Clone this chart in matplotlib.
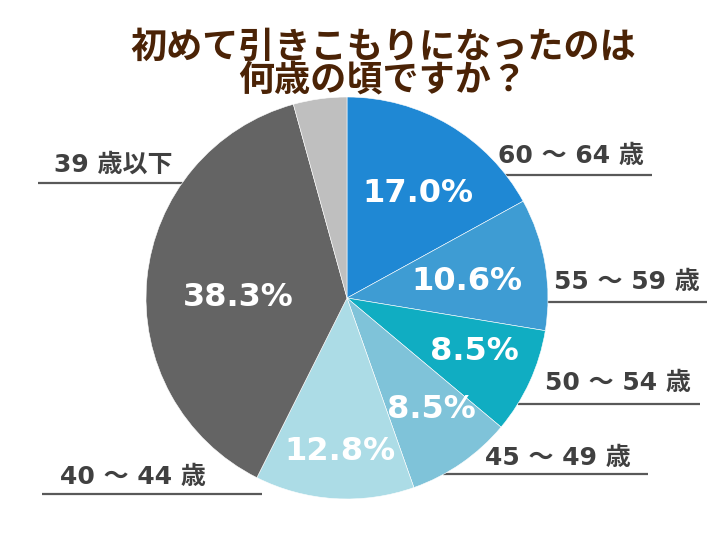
import matplotlib.pyplot as plt

plt.rcParams['font.family'] = ['DejaVu Sans', 'Noto Sans CJK JP']

# Data (clockwise from 12 o'clock)
categories = ['60 ～ 64 歳', '55 ～ 59 歳', '50 ～ 54 歳', '45 ～ 49 歳', '40 ～ 44 歳', '39 歳以下', '']
shares = [17.0, 10.6, 8.5, 8.5, 12.8, 38.3, 4.3]
pct_labels = ['17.0%', '10.6%', '8.5%', '8.5%', '12.8%', '38.3%', '']
colors = ['#1f88d4', '#3e9cd3', '#10adc2', '#7fc3d9', '#acdce6', '#646464', '#bfbfbf']

W, H = 726, 545
fig = plt.figure(figsize=(W / 100, H / 100), dpi=100)
ax = fig.add_axes([0, 0, 1, 1])

cx, cy, r = 347, H - 298, 201
ax.pie(shares, colors=colors, startangle=90, counterclock=False,
       center=(cx, cy), radius=r, frame=True,
       wedgeprops=dict(linewidth=0.4, edgecolor='white'))
ax.set_xlim(0, W)
ax.set_ylim(0, H)
ax.set_aspect('equal')
ax.axis('off')

# percentage labels inside slices (pixel positions from top-left)
pct_pos = [(418, 193), (467, 282), (474, 352), (431, 410), (340, 452), (238, 298)]
for (x, y), t in zip(pct_pos, pct_labels):
    ax.text(x, H - y, t, color='white', fontsize=23, fontweight='bold',
            ha='center', va='center')

# category labels with underline leaders: text centre, line (x0, x1, y)
label_text_pos = [(571, 156), (627, 282), (618, 383), (558, 458), (133, 477), (113, 165)]
leader_lines = [(500, 652, 175), (547, 707, 302), (518, 700, 404),
                (443, 648, 474), (42, 262, 494), (38, 185, 183)]
for (x, y), (x0, x1, ly), t in zip(label_text_pos, leader_lines, categories):
    ax.text(x, H - y, t, color='#404040', fontsize=18, fontweight='bold',
            ha='center', va='center')
    ax.plot([x0, x1], [H - ly, H - ly], color='#595959', lw=1.6,
            solid_capstyle='butt', zorder=0)

# title
title_kw = dict(color='#4b2306', fontsize=26, fontweight='bold',
                ha='center', va='center', family=['Noto Sans CJK JP', 'DejaVu Sans'])
ax.text(383, H - 47, '初めて引きこもりになったのは', **title_kw)
ax.text(383, H - 81, '何歳の頃ですか？', **title_kw)

fig.savefig('out.png', dpi=100, facecolor='white')
